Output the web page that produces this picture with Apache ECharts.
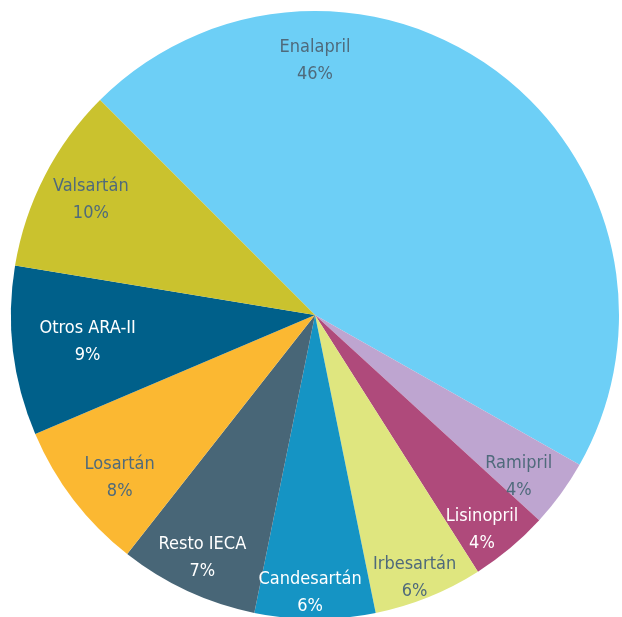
<!DOCTYPE html>
<html>
<head>
<meta charset="utf-8">
<script src="https://cdn.jsdelivr.net/npm/echarts@6/dist/echarts.min.js"></script>
<style>
  html, body { margin: 0; padding: 0; background: #fff; }
  #chart { width: 622px; height: 617px; }
</style>
</head>
<body>
<div id="chart"></div>
<script>
// slices, clockwise from the upper left
const names = ['Enalapril', 'Ramipril', 'Lisinopril', 'Irbesartán', 'Candesartán',
  'Resto IECA', 'Losartán', 'Otros ARA-II', 'Valsartán'];
const shares = [45.7, 3.6, 4.2, 5.8, 6.4, 7.4, 8.0, 9.0, 9.9];

const colors = ['#6dcff6', '#bea5d0', '#af4a7b', '#dfe67f', '#1594c4',
  '#486677', '#fbb832', '#00608a', '#cac22e'];
const labelColors = ['#4f6a7b', '#4f6a7b', '#fff', '#4f6a7b', '#fff',
  '#fff', '#4f6a7b', '#fff', '#4f6a7b'];

const CX = 315, CY = 315, R = 304, START = 135;
// label placement: distance from centre (px) and nudge off the mid angle (deg)
const labelR = [254, 260, 272, 281, 278, 268, 254, 229, 252];
const labelNudge = [0, -2.4, -2.1, -1.2, -1.0, 0, 2.3, 0, 0];

const total = shares.reduce((a, b) => a + b, 0);
const midAngles = [];
let acc = START;
shares.forEach((v, i) => {
  const span = v / total * 360;
  midAngles.push(acc - span / 2 + labelNudge[i]);
  acc -= span;
});
midAngles[0] = 90; // Enalapril label sits at the top

const chart = echarts.init(document.getElementById('chart'));
chart.setOption({
  animation: false,
  series: [{
    type: 'pie',
    center: [CX, CY],
    radius: R,
    startAngle: START,
    clockwise: true,
    avoidLabelOverlap: false,
    data: names.map((n, i) => ({
      name: n,
      value: shares[i],
      itemStyle: { color: colors[i] },
      label: { color: labelColors[i] },
    })),
    itemStyle: { borderWidth: 0 },
    label: {
      show: true,
      position: 'inside',
      formatter: (p) => p.name + '\n' + Math.round(p.percent) + '%',
      fontFamily: "'Liberation Sans Narrow', 'DejaVu Sans Condensed', Roboto, sans-serif",
      fontSize: 18,
      lineHeight: 27,
      align: 'center',
    },
    labelLine: { show: false },
    labelLayout: (params) => {
      const i = params.dataIndex;
      const a = midAngles[i] * Math.PI / 180;
      return {
        x: CX + labelR[i] * Math.cos(a),
        y: CY - labelR[i] * Math.sin(a),
        align: 'center',
        verticalAlign: 'middle',
      };
    },
  }],
});
</script>
</body>
</html>
